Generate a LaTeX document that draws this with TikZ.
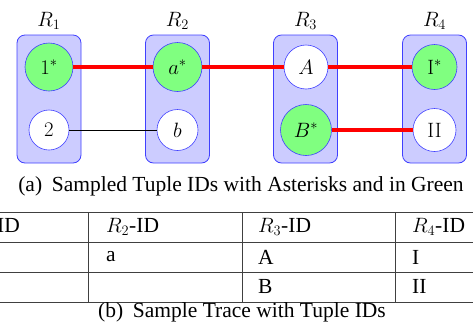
\documentclass[tikz,border=0pt]{standalone}
\usepackage[no-math]{fontspec}
\setmainfont{Liberation Serif}
\begin{document}
\begin{tikzpicture}[x=1pt,y=-1pt, font=\fontsize{21.5}{26}\selectfont,
 relbox/.style={draw=blue!75, fill=blue!20, rounded corners=8pt, line width=0.8pt, minimum width=64pt, minimum height=128pt},
 tup/.style={circle, draw=blue!75, fill=white, line width=0.6pt, inner sep=0pt},
 samp/.style={tup, fill=green!50},
 hit/.style={red, line width=4pt},
 miss/.style={black, line width=0.8pt},
 gridline/.style={black!75, line width=1pt},
 cell/.style={anchor=west, inner sep=0pt}]
\useasboundingbox (0,0) rectangle (473,327);
\clip (0,0) rectangle (473,327);
% relation boxes
\node[relbox] (b1) at (49,99) {};
\node[relbox] (b2) at (177.5,99) {};
\node[relbox] (b3) at (305.5,99) {};
\node[relbox] (b4) at (434.5,99) {};
\node (l1) at (49,21) {$R_1$};
\node (l2) at (177.5,21) {$R_2$};
\node (l3) at (305.5,21) {$R_3$};
\node (l4) at (434.5,21) {$R_4$};
% tuples
\node[samp, minimum size=48pt] (t1) at (49,67) {$1^*$};
\node[tup, minimum size=40pt] (t2) at (49,130) {$2$};
\node[samp, minimum size=49pt] (ta) at (177.5,67) {$a^*$};
\node[tup, minimum size=41pt] (tb) at (177.5,130) {$b$};
\node[tup, minimum size=44pt] (tA) at (306,67) {$A$};
\node[samp, minimum size=51pt] (tB) at (306,130) {$B^*$};
\node[samp, minimum size=45pt] (tI) at (434.5,67) {$\mathrm{I}^*$};
\node[tup, minimum size=43pt] (tII) at (434.5,130) {$\mathrm{II}$};
% joins
\draw[hit] (t1) -- (ta);
\draw[hit] (ta) -- (tA);
\draw[hit] (tA) -- (tI);
\draw[hit] (tB) -- (tII);
\draw[miss] (t2) -- (tb);
% caption a
\node (capa) at (241,186) {(a)\hspace{0.45em}Sampled Tuple IDs with Asterisks and in Green};
% table
\foreach \y in {212,242,272,302} \draw[gridline] (-80,\y) -- (560,\y);
\foreach \x in {-66,88,242,395} \draw[gridline] (\x,212) -- (\x,302);
\node[cell, anchor=east] (h1) at (20,227) {$R_1$-ID};
\node[cell] (h2) at (106,227) {$R_2$-ID};
\node[cell] (h3) at (258,227) {$R_3$-ID};
\node[cell] (h4) at (412,227) {$R_4$-ID};
\node[cell] (a2) at (106,257) {a};
\node[cell] (a3) at (258,257) {A};
\node[cell] (a4) at (412,257) {I};
\node[cell] (r3) at (258,286) {B};
\node[cell] (r4) at (412,286) {II};
% caption b
\node (capb) at (242,312) {(b)\hspace{0.45em}Sample Trace with Tuple IDs};
\end{tikzpicture}
\end{document}
